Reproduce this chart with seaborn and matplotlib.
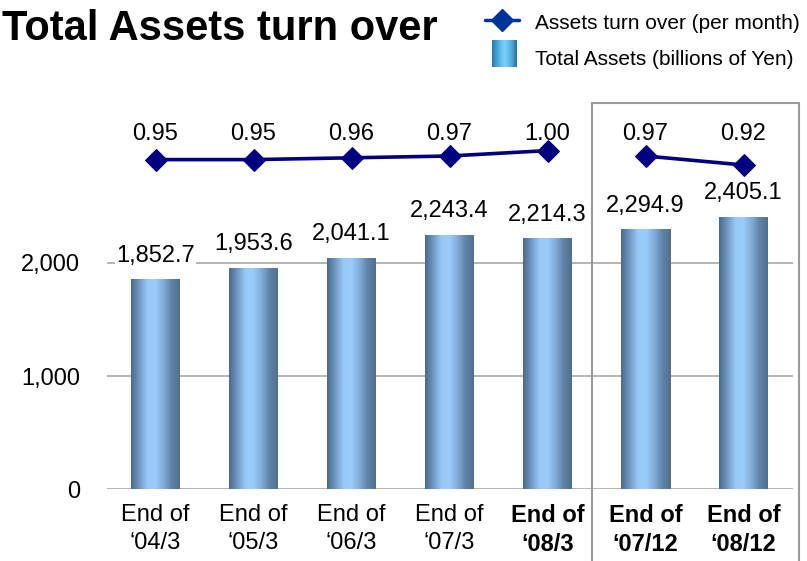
import numpy as np
import pandas as pd
import matplotlib
matplotlib.use('Agg')
import matplotlib.pyplot as plt
import seaborn as sns
from matplotlib.colors import LinearSegmentedColormap
from matplotlib.patches import Rectangle
from matplotlib.lines import Line2D

# Data
periods = ['End of\n‘04/3', 'End of\n‘05/3', 'End of\n‘06/3', 'End of\n‘07/3',
           'End of\n‘08/3', 'End of\n‘07/12', 'End of\n‘08/12']
total_assets = [1852.7, 1953.6, 2041.1, 2243.4, 2214.3, 2294.9, 2405.1]
turnover = [0.95, 0.95, 0.96, 0.97, 1.00, 0.97, 0.92]
segment = [0, 0, 0, 0, 0, 1, 1]  # line is broken between fiscal year ends and Dec figures
bold_label = [False, False, False, False, True, True, True]
y_ticks = [0, 1000, 2000]

df = pd.DataFrame({'period': periods, 'assets': total_assets,
                   'turnover': turnover, 'segment': segment,
                   'pos': range(len(periods))})

sns.set_style('white')
plt.rcParams['font.family'] = ['Liberation Sans', 'DejaVu Sans']
plt.rcParams['text.color'] = 'black'
plt.rcParams['xtick.color'] = 'black'
plt.rcParams['ytick.color'] = 'black'

W, H = 807, 561
fig = plt.figure(figsize=(W / 100, H / 100), dpi=100)

# plot area in pixels: x 106.5 -> 792.5, y 100 -> 489
ax = fig.add_axes([106.5 / W, 1 - 489 / H, 686 / W, 389 / H])

sns.barplot(data=df, x='period', y='assets', width=0.5, color='#7aa3cf', ax=ax)

# bar gradient (dark edges, light middle)
bar_cmap = LinearSegmentedColormap.from_list(
    'bar', ['#4b6a8d', '#6f97c2', '#98c8f7', '#9accfb', '#82add9', '#5f82a8', '#50708f'])
grad = np.linspace(0, 1, 128).reshape(1, -1)
for p in ax.patches:
    x0, y0 = p.get_x(), p.get_y()
    w, h = p.get_width(), p.get_height()
    ax.imshow(grad, cmap=bar_cmap, extent=[x0, x0 + w, y0, y0 + h],
              aspect='auto', zorder=2, interpolation='bilinear')
    p.set_visible(False)

ax.set_xlim(-0.5, len(periods) - 0.5)
ax.set_ylim(0, 389 / 113 * 1000)
ax.set_yticks(y_ticks)
ax.set_yticklabels([f'{v:,.0f}' for v in y_ticks])
ax.set_xticks(range(len(periods)))
ax.set_xticklabels(periods, fontsize=17, linespacing=1.32)
for lab, b in zip(ax.get_xticklabels(), bold_label):
    if b:
        lab.set_fontweight('bold')
ax.tick_params(axis='y', length=0, labelsize=17, pad=19)
ax.tick_params(axis='x', length=0, pad=11)
ax.set_xlabel('')
ax.set_ylabel('')
ax.yaxis.grid(True, color='#a0a0a0', lw=1.1)
ax.set_axisbelow(True)
for s in ax.spines.values():
    s.set_visible(False)

for i, v in enumerate(total_assets):
    ax.annotate(f'{v:,.1f}', (i, v), xytext=(0, 13), textcoords='offset points',
                ha='center', va='baseline', fontsize=17, zorder=3,
                bbox=dict(fc='white', ec='none', pad=1))

# turnover line on a second scale
ax2 = ax.twinx()
sns.lineplot(data=df, x='pos', y='turnover', units='segment', estimator=None,
             color='#000080', lw=2.6, marker='D', markersize=11,
             markeredgecolor='#000080', ax=ax2)
ax2.set_ylim(-0.88, -0.88 + 389 / 180)
ax2.set_xlim(-0.5, len(periods) - 0.5)
ax2.set_yticks([])
ax2.set_ylabel('')
ax2.set_xlabel('')
for s in ax2.spines.values():
    s.set_visible(False)
for i, v in enumerate(turnover):
    ax2.annotate(f'{v:.2f}', (i, 0.897), xycoords=('data', 'axes fraction'),
                 ha='center', va='baseline', fontsize=17)

# grey frame around the December figures
fig.patches.append(Rectangle((592 / W, -0.05), 207 / W, 1 - 103 / H + 0.05,
                             transform=fig.transFigure, fill=False,
                             ec='#9a9a9a', lw=1.5))

# title and legend
fig.text(0.002, 1 - 40 / H, 'Total Assets turn over', fontsize=30,
         fontweight='bold', va='baseline', ha='left')

fig.add_artist(Line2D([485 / W, 502 / W, 519 / W], [1 - 20 / H] * 3,
                      color='#003399', lw=2.5, marker='D', markersize=11,
                      markevery=[1], transform=fig.transFigure))
fig.text(535 / W, 1 - 29 / H, 'Assets turn over (per month)', fontsize=15,
         va='baseline')

leg_cmap = LinearSegmentedColormap.from_list(
    'leg', ['#2b78ab', '#4faedf', '#7dd2fa', '#59b3e2', '#2c6d9a'])
sw = fig.add_axes([492 / W, 1 - 67 / H, 24 / W, 27 / H])
sw.imshow(grad, cmap=leg_cmap, aspect='auto', interpolation='bilinear')
sw.axis('off')
fig.text(535 / W, 1 - 65 / H, 'Total Assets (billions of Yen)', fontsize=15,
         va='baseline')

fig.savefig('out.png', dpi=100)
